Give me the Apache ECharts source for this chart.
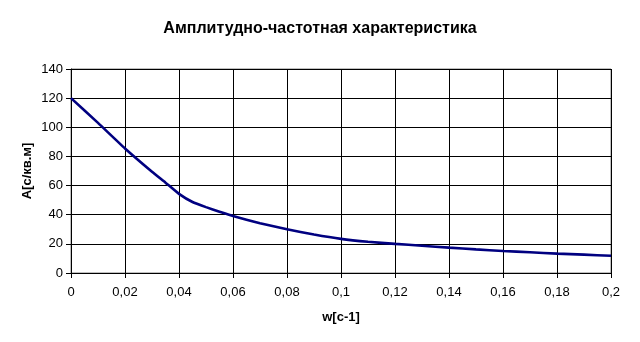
<!DOCTYPE html>
<html>
<head>
<meta charset="utf-8">
<script src="https://cdn.jsdelivr.net/npm/echarts@6/dist/echarts.min.js"></script>
<style>
  html, body { margin: 0; padding: 0; background: #fff; }
  #chart { width: 640px; height: 342px; }
</style>
</head>
<body>
<div id="chart"></div>
<script>
// Frequency response: amplitude A versus angular frequency w
const frequencies = [0, 0.01, 0.02, 0.03, 0.035, 0.04, 0.045, 0.05, 0.055, 0.06, 0.07, 0.08, 0.09, 0.1,
                     0.11, 0.12, 0.13, 0.14, 0.15, 0.16, 0.17, 0.18, 0.19, 0.2];
const amplitudes  = [120, 103, 85.5, 69.5, 62, 54.3, 48.7, 45.2, 42.1, 39.1, 34.2, 30, 26.4, 23.4,
                     21.4, 20, 18.7, 17.4, 16.2, 15.1, 14.2, 13.3, 12.6, 11.8];

const titleText = 'Амплитудно-частотная характеристика';
const xAxisName = 'w[c-1]';
const yAxisName = 'A[c/кв.м]';

const font = '"Liberation Sans", Arial, sans-serif';
const commaDecimal = v => String(Math.round(v * 1000) / 1000).replace('.', ',');

const chart = echarts.init(document.getElementById('chart'), null, { renderer: 'canvas' });
chart.setOption({
  animation: false,
  backgroundColor: '#ffffff',
  title: {
    text: titleText,
    left: 'center',
    top: 16,
    textStyle: { fontFamily: font, fontSize: 16, fontWeight: 'bold', color: '#000' }
  },
  grid: {
    left: 71, right: 29, top: 69, bottom: 69,
    show: true, borderColor: '#808080', borderWidth: 1, backgroundColor: 'transparent'
  },
  xAxis: {
    type: 'value',
    min: 0, max: 0.2, interval: 0.02,
    name: xAxisName,
    nameLocation: 'middle',
    nameGap: 38,
    nameTextStyle: { fontFamily: font, fontSize: 13, fontWeight: 'bold', color: '#000' },
    axisLine: { show: true, lineStyle: { color: '#000', width: 1 } },
    axisTick: { show: true, inside: false, length: 5, lineStyle: { color: '#000' } },
    axisLabel: { fontFamily: font, fontSize: 13, color: '#000', margin: 13, formatter: commaDecimal },
    splitLine: { show: true, lineStyle: { color: '#000', width: 1 } }
  },
  yAxis: {
    type: 'value',
    min: 0, max: 140, interval: 20,
    name: yAxisName,
    nameLocation: 'middle',
    nameGap: 37,
    nameMoveOverlap: false,
    nameRotate: 90,
    nameTextStyle: { fontFamily: font, fontSize: 13, fontWeight: 'bold', color: '#000' },
    axisLine: { show: true, lineStyle: { color: '#000', width: 1 } },
    axisTick: { show: true, inside: false, length: 5, lineStyle: { color: '#000' } },
    axisLabel: { fontFamily: font, fontSize: 13, color: '#000', margin: 8 },
    splitLine: { show: true, lineStyle: { color: '#000', width: 1 } }
  },
  series: [{
    type: 'line',
    data: frequencies.map((w, i) => [w, amplitudes[i]]),
    smooth: 0.15,
    showSymbol: false,
    lineStyle: { color: '#000080', width: 2.6 },
    itemStyle: { color: '#000080' }
  }]
});
</script>
</body>
</html>
